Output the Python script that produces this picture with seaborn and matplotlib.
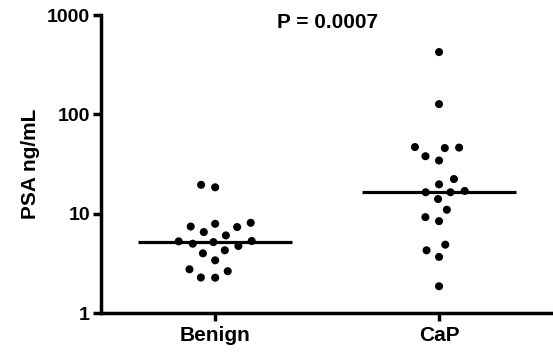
import numpy as np
import pandas as pd
import matplotlib
matplotlib.use("Agg")
import matplotlib.pyplot as plt
import seaborn as sns

groups = ["Benign", "CaP"]
benign_psa = [18.5, 19.6, 6.56, 8.13, 7.46, 7.37, 7.94, 6.07, 5.33, 5.29,
              4.75, 5.01, 5.20, 4.01, 4.30, 3.41, 2.65, 2.77, 2.28, 2.29]
cap_psa = [424, 127, 46.4, 47.0, 45.9, 38.0, 34.4, 19.8, 22.4, 17.0,
           16.5, 16.5, 14.1, 11.0, 8.45, 9.27, 4.30, 4.90, 3.69, 1.87]
yticks = [1, 10, 100, 1000]
p_text = "P = 0.0007"
ylabel = "PSA ng/mL"

df = pd.DataFrame({
    "group": [groups[0]] * len(benign_psa) + [groups[1]] * len(cap_psa),
    "psa": benign_psa + cap_psa,
})

sns.set_style("ticks")
plt.rcParams["font.family"] = ["Liberation Sans", "DejaVu Sans"]
plt.rcParams["font.weight"] = "bold"
for k in ["text.color", "axes.labelcolor", "xtick.color", "ytick.color",
          "axes.edgecolor"]:
    plt.rcParams[k] = "black"

fig = plt.figure(figsize=(5.53, 3.54), dpi=100)
ax = fig.add_axes([0.183, 0.115, 0.817, 0.8426])
ax.set_yscale("log")
ax.set_ylim(1, 1000)
ax.set_xlim(-0.509, 1.509)

sns.swarmplot(data=df, x="group", y="psa", order=groups, color="black",
              size=5.8, ax=ax, linewidth=0)
# invisible edge widens the swarm spacing without enlarging the dots
for coll in ax.collections:
    coll.set_edgecolor("none")
    coll.set_linewidth(4.0)

sns.boxplot(data=df, x="group", y="psa", order=groups, width=0.69,
            showbox=False, showcaps=False, showfliers=False,
            whiskerprops={"visible": False},
            medianprops={"color": "black", "linewidth": 2.3},
            ax=ax)

ax.set_ylim(1, 1000)
ax.set_xlim(-0.509, 1.509)
ax.set_yticks(yticks)
ax.set_yticklabels([str(t) for t in yticks])
ax.yaxis.set_minor_locator(matplotlib.ticker.NullLocator())
ax.set_xlabel("")
ax.set_ylabel(ylabel, fontsize=15, fontweight="bold", labelpad=5)
ax.tick_params(axis="both", which="major", length=6, width=2.5,
               labelsize=14, color="black", labelcolor="black", pad=2)
ax.tick_params(axis="x", labelsize=15, pad=3)
for lab in ax.get_xticklabels() + ax.get_yticklabels():
    lab.set_fontweight("bold")
for s in ["left", "bottom"]:
    ax.spines[s].set_linewidth(2.5)
    ax.spines[s].set_color("black")
ax.spines["top"].set_visible(False)
ax.spines["right"].set_visible(False)

ax.text(0.5, 0.975, p_text, transform=ax.transAxes, ha="center", va="center",
        fontsize=15, fontweight="bold")

fig.savefig("out.png", dpi=100)
